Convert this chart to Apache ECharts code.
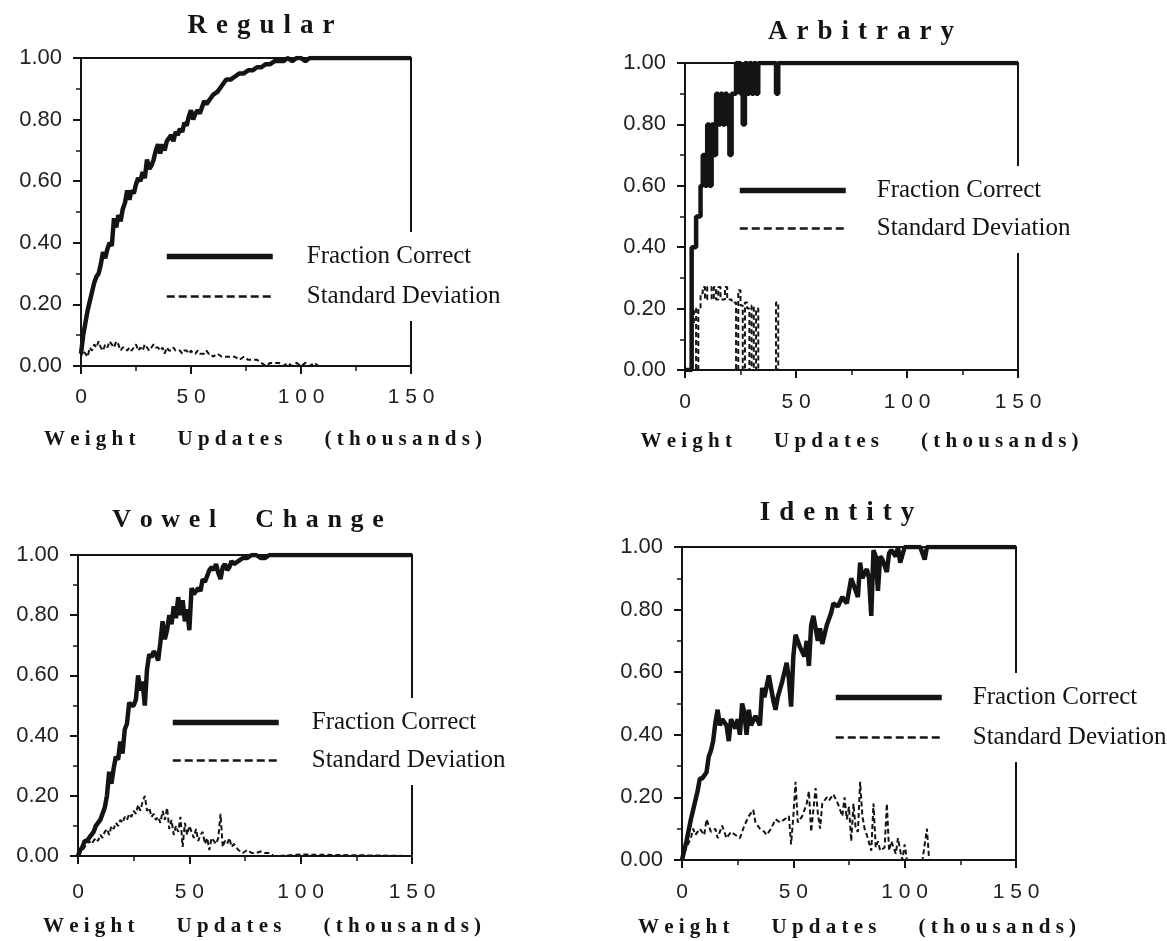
<!DOCTYPE html>
<html><head><meta charset="utf-8">
<script src="https://cdn.jsdelivr.net/npm/echarts@6/dist/echarts.min.js"></script>
<style>html,body{margin:0;padding:0;background:#fff}#c{width:1167px;height:941px}</style>
</head><body><div id="c"></div>
<script>
// ---------- DATA (x in thousands of weight updates) ----------
const xTicks = [0, 50, 100, 150];
const yTicks = [0, 0.2, 0.4, 0.6, 0.8, 1.0];
const legendNames = ['Fraction Correct', 'Standard Deviation'];
const axisTitle = 'Weight Updates (thousands)';

const regularX = [0,1,2,3,4,5,6,7,8,9,10,11,12,13,14,15,16,17,18,19,20,21,22,23,24,25,26,27,28,29,30,31,32,33,34,35,36,37,38,39,40,41,42,43,44,45,46,47,48,49,50,51,52,53,54,55,56,57,58,59,60,62,64,66,68,70,72,74,76,78,80,82,84,86,88,90,92,94,96,98,100,102,104,106,108,110,150];
const regularCorrect = [0.04,0.10,0.14,0.18,0.21,0.24,0.27,0.29,0.30,0.33,
 0.37,0.35,0.38,0.40,0.39,0.48,0.45,0.49,0.47,0.51,
 0.53,0.57,0.54,0.57,0.56,0.59,0.61,0.60,0.63,0.61,
 0.67,0.64,0.65,0.67,0.70,0.72,0.69,0.72,0.70,0.73,
 0.74,0.75,0.73,0.76,0.75,0.77,0.76,0.79,0.78,0.81,
 0.83,0.80,0.82,0.83,0.82,0.84,0.86,0.85,0.86,0.87,
 0.88,
 0.89,0.91,0.93,0.93,0.94,0.95,0.95,0.96,0.96,0.97,
 0.97,0.98,0.98,0.99,0.99,0.99,1.00,0.99,1.00,1.00,
 0.99,1.00,1.00,1.00,1.00,
 1.00];
const regularSD = [0.03,0.05,0.04,0.03,0.06,0.05,0.07,0.06,0.08,0.06,
 0.05,0.07,0.06,0.08,0.07,0.06,0.08,0.07,0.05,0.06,
 0.06,0.05,0.06,0.05,0.06,0.07,0.05,0.06,0.05,0.07,
 0.06,0.05,0.06,0.07,0.06,0.06,0.05,0.06,0.04,0.06,
 0.05,0.05,0.06,0.05,0.05,0.05,0.04,0.05,0.05,0.04,
 0.05,0.04,0.04,0.05,0.04,0.04,0.04,0.05,0.04,0.04,
 0.03,
 0.04,0.03,0.03,0.03,0.03,0.02,0.03,0.02,0.02,0.02,
 0.01,0.00,0.01,0.01,0.01,0.00,0.01,0.00,0.01,0.00,
 0.01,0.00,0.01,0.00,0.00,
 0.00];

const arbitraryX = [0,1,2,3,4,5,6,7,8,9,10,11,12,13,14,15,16,17,18,19,20,21,22,23,24,25,26,27,28,29,30,31,32,33,34,35,36,37,38,39,40,41,42,43,44,150];
const arbitraryCorrect = [0,0,0,0.4,0.4,0.5,0.5,0.6,0.7,0.6, 0.8,0.6,0.8,0.7,0.9,0.8,0.9,0.8,0.9,0.8, 0.7,0.9,0.9,1.0,1.0,0.9,0.8,1.0,0.9,1.0, 0.9,1.0,0.9,1.0,1.0,1.0,1.0,1.0,1.0,1.0, 1.0,0.9,1.0,1.0,1.0, 1.0];
const arbitrarySD = [0,0,0,0.15,0.2,0,0.2,0.25,0.27,0.23, 0.27,0.27,0.23,0.27,0.23,0.27,0.23,0.23,0.27,0.23, 0.23,0.22,0.22,0,0.26,0.21,0,0.22,0.2,0, 0.21,0,0.2,0,0,0,0,0,0,0, 0,0.22,0,0,0, 0];

const vowelX = [0,1,2,3,4,5,6,7,8,9,10,11,12,13,14,15,16,17,18,19,20,21,22,23,24,25,26,27,28,29,30,31,32,33,34,35,36,37,38,39,40,41,42,43,44,45,46,47,48,49,50,51,52,53,54,55,56,57,58,59,60,61,62,63,64,65,66,67,68,69,70,72,74,76,78,80,82,84,86,88,90,100,150];
const vowelCorrect = [0.0,0.02,0.03,0.05,0.05,0.06,0.07,0.08,0.10,0.11,
 0.12,0.14,0.16,0.20,0.28,0.24,0.29,0.33,0.32,0.38,
 0.34,0.42,0.44,0.51,0.50,0.50,0.52,0.60,0.55,0.58,
 0.50,0.62,0.67,0.66,0.68,0.67,0.65,0.71,0.78,0.72,
 0.75,0.80,0.77,0.83,0.79,0.86,0.80,0.85,0.78,0.82,
 0.75,0.89,0.87,0.88,0.89,0.88,0.92,0.91,0.93,0.95,
 0.96,0.95,0.97,0.94,0.92,0.96,0.97,0.95,0.96,0.98,
 0.97,
 0.98,0.99,0.99,1.00,1.00,0.99,0.99,1.00,1.00,1.00,
 1.00,1.00];
const vowelSD = [0.0,0.01,0.02,0.03,0.04,0.05,0.04,0.05,0.06,0.05,
 0.07,0.06,0.08,0.09,0.07,0.10,0.09,0.11,0.10,0.12,
 0.11,0.13,0.12,0.14,0.13,0.15,0.14,0.17,0.15,0.18,
 0.20,0.15,0.16,0.13,0.14,0.12,0.13,0.11,0.15,0.12,
 0.16,0.09,0.12,0.07,0.10,0.08,0.13,0.03,0.11,0.07,
 0.10,0.08,0.06,0.09,0.05,0.07,0.08,0.04,0.06,0.02,
 0.06,0.05,0.04,0.06,0.14,0.03,0.05,0.04,0.06,0.03,
 0.04,
 0.02,0.01,0.02,0.01,0.01,0.015,0.01,0.01,0.0,0.0,
 0.005,0.0];

const identityX = [0,2,4,5,6,7,8,9,10,11,12,13,14,15,16,17,18,20,21,22,24,25,26,27,28,29,30,31,33,35,36,37,39,41,42,43,45,47,48,49,50,51,52,53,55,56,57,58,59,61,62,63,65,67,68,70,72,74,76,77,79,80,81,83,84,85,86,87,88,89,90,92,93,94,96,97,98,100,102,104,107,109,110,111,150];
const identityCorrect = [0,0.06,0.13,0.16,0.19,0.22,0.26,0.26,0.27,0.28,
 0.33,0.35,0.38,0.44,0.48,0.43,0.45,0.43,0.38,0.45,
 0.42,0.45,0.40,0.50,0.47,0.40,0.48,0.43,0.46,0.43,
 0.55,0.52,0.59,0.51,0.48,0.52,0.57,0.63,0.58,0.49,
 0.65,0.72,0.70,0.68,0.65,0.70,0.62,0.75,0.78,0.70,
 0.74,0.69,0.75,0.79,0.82,0.81,0.84,0.82,0.90,0.88,
 0.84,0.95,0.90,0.93,0.90,0.78,0.99,0.97,0.86,0.97,
 0.96,0.92,0.98,0.99,0.97,1.00,0.95,1.00,1.00,1.00,
 1.00,0.96,1.00,1.00,1.00];
const identitySdX = [0,2,4,5,6,8,10,11,13,15,16,18,20,22,24,26,28,30,32,33,35,37,38,40,42,44,46,48,49,50,51,52,54,56,57,58,59,60,61,62,63,65,66,68,70,72,73,74,75,76,77,78,79,80,81,82,83,85,86,87,88,89,91,92,93,94,95,96,97,98,99,100,101,108,109,110,111,150];
const identitySD = [0,0.04,0.07,0.10,0.08,0.10,0.08,0.13,0.09,0.10,
 0.07,0.11,0.07,0.09,0.08,0.07,0.11,0.14,0.16,0.12,
 0.10,0.09,0.08,0.10,0.13,0.12,0.13,0.14,0.05,0.14,
 0.25,0.12,0.14,0.18,0.22,0.09,0.16,0.23,0.15,0.10,
 0.18,0.20,0.19,0.21,0.18,0.14,0.20,0.13,0.17,0.06,
 0.18,0.10,0.09,0.25,0.14,0.10,0.08,0.03,0.18,0.04,
 0.06,0.03,0.04,0.18,0.03,0.06,0.04,0.02,0.07,0.03,
 0.00,0.05,0.00,0.00,0.05,0.10,0.00,0.00];

// ---------- LAYOUT ----------
const zip = (xs, ys) => xs.map((x, i) => [x, ys[i]]);
const spaced = (t, sep, wsep) => t.split(' ').map(w => Array.from(w).join(sep)).join(wsep);
const INK = '#141414';

const panels = [
  {title:'Regular', fcX:regularX, fc:regularCorrect, sdX:regularX, sd:regularSD, step:false,
   grid:{left:81,top:58,width:330,height:308}, tx:261, ty:13,
   lg:{left:154,top:232,gap:15,pad:29}, namePad:34, nameGap:63, labMargin:21},
  {title:'Arbitrary', fcX:arbitraryX, fc:arbitraryCorrect, sdX:arbitraryX, sd:arbitrarySD, step:'end',
   grid:{left:685,top:63,width:333,height:307}, tx:861, ty:19,
   lg:{left:727,top:166,gap:13,pad:26}, namePad:16, nameGap:61, labMargin:22},
  {title:'Vowel Change', fcX:vowelX, fc:vowelCorrect, sdX:vowelX, sd:vowelSD, step:false,
   grid:{left:78,top:555,width:334,height:301}, tx:248, ty:507,
   lg:{left:160,top:698,gap:13,pad:28}, namePad:34, nameGap:60, labMargin:26},
  {title:'Identity', fcX:identityX, fc:identityCorrect, sdX:identitySdX, sd:identitySD, step:false,
   grid:{left:682,top:547,width:334,height:313}, tx:837, ty:500,
   lg:{left:823,top:673,gap:15,pad:26}, namePad:16, nameGap:57, labMargin:22}
];

const chart = echarts.init(document.getElementById('c'), null, {renderer:'canvas'});
const series = [];
panels.forEach((p, i) => {
  series.push({name:legendNames[0], type:'line', xAxisIndex:i, yAxisIndex:i, data:zip(p.fcX, p.fc),
    symbol:'none', step:p.step, lineStyle:{color:INK, width:4.5}, itemStyle:{color:INK}, z:3});
  series.push({name:legendNames[1], type:'line', xAxisIndex:i, yAxisIndex:i, data:zip(p.sdX, p.sd),
    symbol:'none', step:p.step, lineStyle:{color:INK, width:2, type:[5,3]}, itemStyle:{color:INK}, z:3});
});

chart.setOption({
  backgroundColor:'#ffffff',
  animation:false,
  title: panels.map(p => ({
    text: spaced(p.title, '\u2004', '\u2003\u2002'), left:p.tx, top:p.ty, textAlign:'center', padding:0,
    textStyle:{fontFamily:'Liberation Serif', fontWeight:'bold', fontSize:p.title.length > 10 ? 26 : 27, color:INK}
  })),
  grid: panels.map(p => ({...p.grid, show:true, borderColor:INK, borderWidth:2, backgroundColor:'transparent', containLabel:false})),
  legend: panels.map(p => ({
    data:[
      {name:legendNames[0], lineStyle:{width:5.5}},
      {name:legendNames[1], lineStyle:{width:2.5, type:[8,4]}}
    ],
    orient:'vertical', left:p.lg.left, top:p.lg.top, itemGap:p.lg.gap,
    itemWidth:106, itemHeight:2, itemStyle:{borderWidth:0},
    backgroundColor:'#ffffff', padding:[12,10], selectedMode:false,
    textStyle:{fontFamily:'Liberation Serif', fontSize:25, color:INK, padding:[0,0,0,p.lg.pad]}
  })),
  xAxis: panels.map((p, i) => ({
    type:'value', gridIndex:i, min:xTicks[0], max:xTicks[xTicks.length-1], interval:xTicks[1]-xTicks[0],
    axisLine:{show:true, onZero:false, lineStyle:{color:INK, width:2}},
    axisTick:{show:true, length:8, lineStyle:{color:INK, width:2}},
    minorTick:{show:true, splitNumber:2, length:5, lineStyle:{color:INK, width:1.5}},
    splitLine:{show:false},
    axisLabel:{margin:p.labMargin, color:'#222', fontFamily:'Liberation Sans', fontSize:21,
      formatter:v => spaced(String(v), ' ', '')},
    name:spaced(axisTitle, ' ', '\u2003\u2003'), nameLocation:'middle', nameGap:p.nameGap,
    nameTextStyle:{fontFamily:'Liberation Serif', fontWeight:'bold', fontSize:21, color:INK, padding:[0,0,0,p.namePad]}
  })),
  yAxis: panels.map((p, i) => ({
    type:'value', gridIndex:i, min:yTicks[0], max:yTicks[yTicks.length-1], interval:yTicks[1]-yTicks[0],
    axisLine:{show:true, onZero:false, lineStyle:{color:INK, width:2}},
    axisTick:{show:true, length:8, lineStyle:{color:INK, width:2}},
    minorTick:{show:true, splitNumber:2, length:5, lineStyle:{color:INK, width:1.5}},
    splitLine:{show:false},
    axisLabel:{margin:19, color:'#222', fontFamily:'Liberation Sans', fontSize:22,
      formatter:v => v.toFixed(2)}
  })),
  series
});
</script>
</body></html>
